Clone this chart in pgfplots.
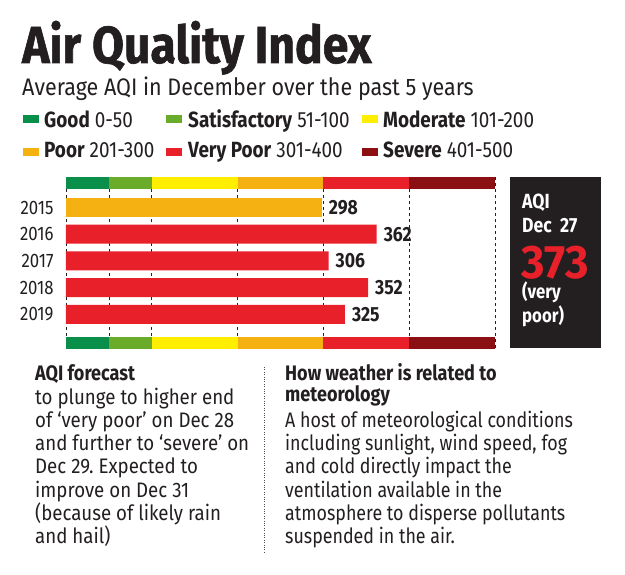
\documentclass[border=0pt]{standalone}
\usepackage{pgfplots}
\pgfplotsset{compat=1.18}
\usepackage{fontspec}
\setmainfont{Fira Sans}[FakeStretch=0.86]
\newfontfamily\titlefont{Fira Sans}[FakeStretch=0.89, BoldFeatures={FakeBold=1.2}]
\newfontfamily\subfont{Fira Sans}[FakeStretch=0.9]
\newfontfamily\bigfont{Fira Sans}[FakeStretch=0.96]
\newfontfamily\rightfont{Fira Sans}[FakeStretch=0.85]
\newfontfamily\leftfont{Fira Sans}[FakeStretch=0.89]
\definecolor{ink}{HTML}{231F20}
\definecolor{cgood}{HTML}{0A8F4A}
\definecolor{csat}{HTML}{6AAB2A}
\definecolor{cmod}{HTML}{FFEE00}
\definecolor{cpoor}{HTML}{F5B011}
\definecolor{cvpoor}{HTML}{E8202A}
\definecolor{csev}{HTML}{8B1014}
\frenchspacing
\begin{document}
\begin{tikzpicture}
\begin{scope}[x=1pt,y=-1pt]
\useasboundingbox (0,0) rectangle (625,575);
\fill[white] (0,0) rectangle (625,575);
% title
\node[anchor=base west,inner sep=0pt,text=ink] at (22,63) {\titlefont\fontsize{52}{52}\selectfont\bfseries Air Quality Index};
\node[anchor=base west,inner sep=0pt,text=ink] at (22,96) {\subfont\fontsize{23.9}{26}\selectfont Average AQI in December over the past 5 years};
% legend
\fill[cgood] (23,115) rectangle (39,123);
\fill[csat] (166,115) rectangle (182,123);
\fill[cmod] (362,115) rectangle (378,123);
\fill[cpoor] (23,148) rectangle (39,156);
\fill[cvpoor] (166,148) rectangle (182,156);
\fill[csev] (362,148) rectangle (378,156);
\begin{scope}[every node/.style={anchor=base west,inner sep=0pt,text=ink,font=\fontsize{22}{24}\selectfont}]
\node at (44,128) {\textbf{Good} 0-50};
\node at (188,128) {\textbf{Satisfactory} 51-100};
\node at (383,128) {\textbf{Moderate} 101-200};
\node at (44,158) {\textbf{Poor} 201-300};
\node at (188,158) {\textbf{Very Poor} 301-400};
\node at (383,158) {\textbf{Severe} 401-500};
\end{scope}
% AQI box
\fill[ink] (510,177) rectangle (601,348);
\begin{scope}[every node/.style={anchor=base west,inner sep=0pt,text=white,font=\fontsize{20.5}{21}\selectfont\bfseries}]
\node at (522,209) {AQI};
\node at (522,233) {Dec\ \ 27};
\node[text=cvpoor,font=\bigfont\fontsize{47}{47}\selectfont\bfseries] at (521,279) {373};
\node[font=\fontsize{19.5}{20}\selectfont\bfseries] at (522,299) {(very};
\node[font=\fontsize{19.5}{20}\selectfont\bfseries] at (522,323) {poor)};
\end{scope}
% bottom text
\draw[ink!80, line width=0.6pt, dash pattern=on 0.8pt off 1.6pt] (264,367) -- (264,552);
\begin{scope}[every node/.style={anchor=base west,inner sep=0pt,text=ink,font=\leftfont\fontsize{21}{23}\selectfont}]
\node[font=\fontsize{21}{23}\selectfont\bfseries] at (35,381) {AQI forecast};
\node at (35,404) {to plunge to higher end};
\node at (35,427.3) {of ‘very poor’ on Dec 28};
\node at (35,450.6) {and further to ‘severe’ on};
\node at (35,473.9) {Dec 29. Expected to};
\node at (35,497.2) {improve on Dec 31};
\node at (35,520.5) {(because of likely rain};
\node at (35,543.8) {and hail)};
\end{scope}
\begin{scope}[every node/.style={anchor=base west,inner sep=0pt,text=ink,font=\rightfont\fontsize{21}{23}\selectfont}]
\node[font=\fontsize{21}{23}\selectfont\bfseries] at (285,381) {How weather is related to};
\node[font=\fontsize{21}{23}\selectfont\bfseries] at (285,402) {meteorology};
\node at (285,427.3) {A host of meteorological conditions};
\node at (285,450.6) {including sunlight, wind speed, fog};
\node at (285,473.9) {and cold directly impact the};
\node at (285,497.2) {ventilation available in the};
\node at (285,520.5) {atmosphere to disperse pollutants};
\node at (285,543.8) {suspended in the air.};
\end{scope}
\end{scope}
% chart
\begin{axis}[
  at={(66pt,-177pt)}, anchor=north west,
  scale only axis, width=429pt, height=172pt,
  xmin=0, xmax=500, ymin=-1.14, ymax=5.29, y dir=reverse,
  xbar, bar width=19pt,
  axis line style={draw=none}, major tick style={draw=none},
  xtick={0,50,100,200,300,400,500}, xticklabels={},
  xmajorgrids, ymajorgrids=false,
  grid style={ink, line width=0.6pt, dash pattern=on 3pt off 3pt},
  ytick={0,1,2,3,4}, yticklabels={2015,2016,2017,2018,2019},
  yticklabel style={font=\fontsize{19.5}{20}\selectfont, text=ink, anchor=east, inner sep=0pt, xshift=-8pt},
  nodes near coords,
  nodes near coords style={font=\fontsize{20.5}{21}\selectfont\bfseries, text=ink, anchor=west, inner sep=0pt, xshift=7pt},
  /pgf/number format/assume math mode=true,
  clip=false,
]
\fill[cgood] (axis cs:0,-1.14) rectangle (axis cs:50,-0.69);
\fill[csat] (axis cs:50,-1.14) rectangle (axis cs:100,-0.69);
\fill[cmod] (axis cs:100,-1.14) rectangle (axis cs:200,-0.69);
\fill[cpoor] (axis cs:200,-1.14) rectangle (axis cs:300,-0.69);
\fill[cvpoor] (axis cs:300,-1.14) rectangle (axis cs:400,-0.69);
\fill[csev] (axis cs:400,-1.14) rectangle (axis cs:500,-0.69);
\fill[cgood] (axis cs:0,4.84) rectangle (axis cs:50,5.29);
\fill[csat] (axis cs:50,4.84) rectangle (axis cs:100,5.29);
\fill[cmod] (axis cs:100,4.84) rectangle (axis cs:200,5.29);
\fill[cpoor] (axis cs:200,4.84) rectangle (axis cs:300,5.29);
\fill[cvpoor] (axis cs:300,4.84) rectangle (axis cs:400,5.29);
\fill[csev] (axis cs:400,4.84) rectangle (axis cs:500,5.29);
\addplot[fill=cpoor, draw=none, bar shift=0pt] coordinates {(298,0)};
\addplot[fill=cvpoor, draw=none, bar shift=0pt] coordinates {(362,1) (306,2) (352,3) (325,4)};
\end{axis}
\end{tikzpicture}
\end{document}
